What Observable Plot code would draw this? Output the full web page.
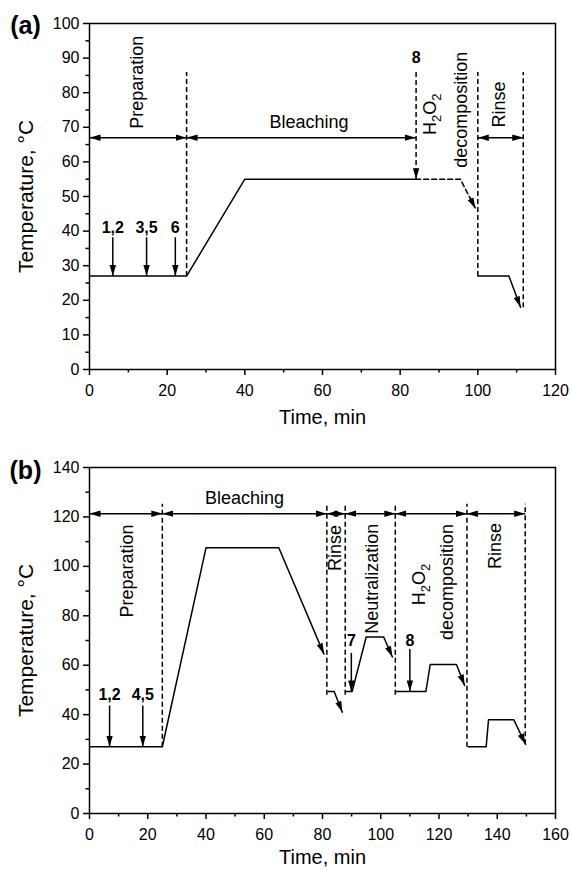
<!DOCTYPE html>
<html><head><meta charset="utf-8">
<script src="https://cdn.jsdelivr.net/npm/d3@7"></script>
<script src="https://cdn.jsdelivr.net/npm/@observablehq/plot@0.6"></script>
<style>
body{margin:0;background:#fff;}
#chart{width:571px;}
#chart svg{display:block;}
</style></head><body><div id="chart"></div>
<script>
// ================= Panel (a) data =================
const aMainTime = [0, 25, 40, 84];
const aMainTemp = [27, 27, 55, 55];
const aDecompTime = [84, 95.5, 99.4];
const aDecompTemp = [55, 55, 46.5];
const aRinseTime = [100, 108, 111];
const aRinseTemp = [27, 27, 18];
const aBoundTime = [25, 100, 111.7];
const aBoundLow = [27, 27, 18];
const aBoundHigh = [86, 86, 86];
const aStageFrom = [0, 25, 100];
const aStageTo = [25, 84, 111.7];
const aStageTemp = [67, 67, 67];
const aLabelText = ["Preparation", "Bleaching", "H2O2", "decomposition", "Rinse"];
const aLabelTime = [12.3, 56.5, 87.8, 95.7, 105.4];
const aLabelTemp = [83, 71.4, 73.8, 75.1, 76.6];
const aLabelRotate = [-90, 0, -90, -90, -90];
const aAddText = ["1,2", "3,5", "6", "8"];
const aAddTime = [6, 14.7, 22.1, 84.1];
const aAddFrom = [38.2, 38.2, 38.2, 86];
const aAddTo = [27, 27, 27, 55];
const aAddTextTemp = [40.8, 40.8, 40.8, 90];
const aAddDashed = [false, false, false, true];

// ================= Panel (b) data =================
const bMainTime = [0, 25, 40, 65, 80.5];
const bMainTemp = [27, 27, 107.5, 107.5, 64.5];
const bRinse1Time = [82, 84, 86.8];
const bRinse1Temp = [49.4, 49.4, 41];
const bNeutTime = [88, 90.2, 95, 101, 104];
const bNeutTemp = [49.4, 49.4, 71.4, 71.4, 63.3];
const bDecompTime = [105, 115.5, 117, 126, 128.8];
const bDecompTemp = [49.4, 49.4, 60.3, 60.3, 51.8];
const bRinse2Time = [130, 136.2, 137, 145.7, 149.7];
const bRinse2Temp = [27, 27, 37.9, 37.9, 28];
const bBoundTime = [25, 81.5, 87.8, 105, 129.6, 149.6];
const bBoundLow = [27, 48, 48, 48, 27, 28];
const bBoundHigh = [125.3, 125.3, 125.3, 125.3, 125.3, 125.3];
const bStageFrom = [0, 25, 81.5, 87.8, 105, 129.6];
const bStageTo = [25, 81.5, 87.8, 105, 129.6, 149.6];
const bStageTemp = [121.3, 121.3, 121.3, 121.3, 121.3, 121.3];
const bLabelText = ["Preparation", "Bleaching", "Rinse", "Neutralization", "H2O2", "decomposition", "Rinse"];
const bLabelTime = [12.9, 53.2, 84.5, 97.1, 113.1, 122.8, 139.4];
const bLabelTemp = [98.1, 127.5, 107.4, 95, 92.7, 93.7, 108.2];
const bLabelRotate = [-90, 0, -90, -90, -90, -90, -90];
const bAddText = ["1,2", "4,5", "7", "8"];
const bAddTime = [6.9, 18.3, 89.9, 110];
const bAddFrom = [43.7, 43.7, 65, 66.6];
const bAddTo = [27, 27, 49.4, 49.4];
const bAddTextTemp = [47.8, 47.8, 70, 70];
const bAddDashed = [false, false, false, false];

// ================= helpers =================
const FONT = "'Liberation Sans', Arial, Helvetica, sans-serif";
const tri = (orient) => (color) => {
  const m = d3.create("svg:marker")
    .attr("viewBox", "-11 -3.5 11 7")
    .attr("markerWidth", 11)
    .attr("markerHeight", 7)
    .attr("markerUnits", "userSpaceOnUse")
    .attr("refX", 0).attr("refY", 0)
    .attr("orient", orient);
  m.append("path").attr("d", "M-11,-3.2L0,0L-11,3.2Z").attr("fill", color).attr("stroke", "none");
  return m.node();
};
const headEnd = tri("auto");
const headStart = tri("auto-start-reverse");
const pts = (t, v) => t.map((x, i) => ({x, y: v[i]}));

function makePanel(c) {
  const marks = [];
  const lineStyle = {x: "x", y: "y", stroke: "black", strokeWidth: 1.5};
  for (const L of c.lines) {
    marks.push(Plot.line(pts(L.t, L.v), {...lineStyle,
      strokeDasharray: L.dashed ? "5,3" : null,
      markerEnd: L.arrow ? headEnd : null}));
  }
  const bounds = c.boundTime.map((x, i) => ({x, y1: c.boundLow[i], y2: c.boundHigh[i]}));
  marks.push(Plot.link(bounds, {x1: "x", x2: "x", y1: "y1", y2: "y2", stroke: "black", strokeWidth: 1.5, strokeDasharray: "5,3"}));
  const stages = c.stageFrom.map((x1, i) => ({x1, x2: c.stageTo[i], y: c.stageTemp[i]}));
  marks.push(Plot.link(stages, {x1: "x1", x2: "x2", y1: "y", y2: "y", stroke: "black", strokeWidth: 1.5, markerStart: headStart, markerEnd: headEnd}));
  const adds = c.addTime.map((x, i) => ({x, y1: c.addFrom[i], y2: c.addTo[i], label: c.addText[i], ly: c.addTextTemp[i], dashed: c.addDashed[i]}));
  marks.push(Plot.link(adds.filter(d => !d.dashed), {x1: "x", x2: "x", y1: "y1", y2: "y2", stroke: "black", strokeWidth: 1.5, markerEnd: headEnd}));
  marks.push(Plot.link(adds.filter(d => d.dashed), {x1: "x", x2: "x", y1: "y1", y2: "y2", stroke: "black", strokeWidth: 1.5, strokeDasharray: "5,3", markerEnd: headEnd}));
  marks.push(Plot.text(adds, {x: "x", y: "ly", text: "label", fontSize: 16, fontWeight: "bold", textAnchor: "middle", lineAnchor: "middle"}));
  const labels = c.labelText.map((t, i) => ({t, x: c.labelTime[i], y: c.labelTemp[i], r: c.labelRotate[i]}));
  marks.push(Plot.text(labels.filter(d => d.r === 0), {x: "x", y: "y", text: "t", fontSize: 18, textAnchor: "middle", lineAnchor: "middle"}));
  marks.push(Plot.text(labels.filter(d => d.r !== 0), {x: "x", y: "y", text: "t", rotate: -90, fontSize: 18, textAnchor: "middle", lineAnchor: "middle"}));
  marks.push(Plot.axisX({ticks: c.xMajor, tickSize: 6, tickPadding: 9, fontSize: 16, label: null, strokeWidth: 1.5}));
  marks.push(Plot.axisX({ticks: c.xMinor, tickSize: 3.5, tickFormat: () => "", label: null, strokeWidth: 1.5}));
  marks.push(Plot.axisY({ticks: c.yMajor, tickSize: 6, tickPadding: 4, fontSize: 16, label: null, strokeWidth: 1.5}));
  marks.push(Plot.axisY({ticks: c.yMinor, tickSize: 3.5, tickFormat: () => "", label: null, strokeWidth: 1.5}));
  marks.push(Plot.frame({stroke: "black", strokeWidth: 1.5}));
  marks.push(Plot.text(["Time, min"], {text: d => d, frameAnchor: "bottom", dy: c.timeDy, fontSize: 20, textAnchor: "middle", lineAnchor: "middle"}));
  marks.push(Plot.text(["Temperature, °C"], {text: d => d, frameAnchor: "left", dx: -63, rotate: -90, fontSize: 21, textAnchor: "middle", lineAnchor: "middle"}));
  marks.push(Plot.text([c.tag], {text: d => d, frameAnchor: "top-left", dx: -64, dy: c.tagDy, fontSize: 25, fontWeight: "bold", textAnchor: "middle", lineAnchor: "middle"}));

  const svg = Plot.plot({
    width: 571, height: 435,
    marginLeft: 89, marginRight: 16, marginTop: c.marginTop, marginBottom: c.marginBottom,
    x: {domain: [0, c.xMax], axis: null},
    y: {domain: [0, c.yMax], axis: null},
    style: {fontFamily: FONT, color: "black", background: "white", overflow: "visible"},
    marks
  });
  d3.select(svg).selectAll("text").filter(function () { return this.textContent === "H2O2"; }).each(function () {
    const t = d3.select(this);
    t.text("");
    t.append("tspan").text("H");
    t.append("tspan").attr("font-size", 13).attr("dy", 5).text("2");
    t.append("tspan").attr("dy", -5).text("O");
    t.append("tspan").attr("font-size", 13).attr("dy", 5).text("2");
  });
  return svg;
}

const chart = document.getElementById("chart");
chart.appendChild(makePanel({
  tag: "(a)", tagDy: 2, timeDy: 48, xMax: 120, yMax: 100, marginTop: 23, marginBottom: 66,
  xMajor: d3.range(0, 121, 20), xMinor: d3.range(10, 120, 20),
  yMajor: d3.range(0, 101, 10), yMinor: d3.range(5, 100, 10),
  lines: [
    {t: aMainTime, v: aMainTemp, dashed: false, arrow: false},
    {t: aDecompTime, v: aDecompTemp, dashed: true, arrow: true},
    {t: aRinseTime, v: aRinseTemp, dashed: false, arrow: true}
  ],
  boundTime: aBoundTime, boundLow: aBoundLow, boundHigh: aBoundHigh,
  stageFrom: aStageFrom, stageTo: aStageTo, stageTemp: aStageTemp,
  labelText: aLabelText, labelTime: aLabelTime, labelTemp: aLabelTemp, labelRotate: aLabelRotate,
  addText: aAddText, addTime: aAddTime, addFrom: aAddFrom, addTo: aAddTo, addTextTemp: aAddTextTemp, addDashed: aAddDashed
}));
chart.appendChild(makePanel({
  tag: "(b)", tagDy: 3, timeDy: 44, xMax: 160, yMax: 140, marginTop: 32, marginBottom: 57,
  xMajor: d3.range(0, 161, 20), xMinor: d3.range(10, 160, 20),
  yMajor: d3.range(0, 141, 20), yMinor: d3.range(10, 140, 20),
  lines: [
    {t: bMainTime, v: bMainTemp, dashed: false, arrow: true},
    {t: bRinse1Time, v: bRinse1Temp, dashed: false, arrow: true},
    {t: bNeutTime, v: bNeutTemp, dashed: false, arrow: true},
    {t: bDecompTime, v: bDecompTemp, dashed: false, arrow: true},
    {t: bRinse2Time, v: bRinse2Temp, dashed: false, arrow: true}
  ],
  boundTime: bBoundTime, boundLow: bBoundLow, boundHigh: bBoundHigh,
  stageFrom: bStageFrom, stageTo: bStageTo, stageTemp: bStageTemp,
  labelText: bLabelText, labelTime: bLabelTime, labelTemp: bLabelTemp, labelRotate: bLabelRotate,
  addText: bAddText, addTime: bAddTime, addFrom: bAddFrom, addTo: bAddTo, addTextTemp: bAddTextTemp, addDashed: bAddDashed
}));
</script></body></html>
